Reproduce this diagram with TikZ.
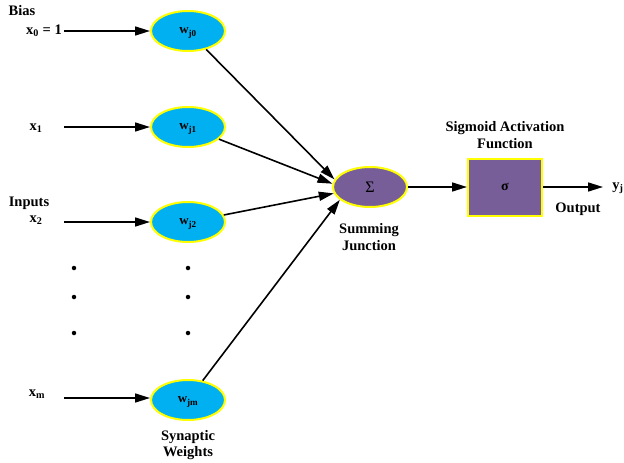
\documentclass[tikz,border=0pt]{standalone}
\usepackage{fontspec}
\setmainfont{Liberation Serif}
\usetikzlibrary{arrows.meta,shapes.geometric}
\definecolor{weightblue}{RGB}{0,176,240}
\definecolor{sumpurple}{RGB}{120,94,152}
\definecolor{rimyellow}{RGB}{255,255,0}
\tikzstyle{weight}=[ellipse,draw=rimyellow,line width=2pt,fill=weightblue,minimum width=74pt,minimum height=40pt,inner sep=0pt,text depth=0pt,font=\bfseries\fontsize{13}{14}\selectfont]
\tikzstyle{edge}=[draw,line width=1.6pt,-{Triangle[length=15pt,width=9pt]}]
\tikzstyle{txt}=[font=\bfseries\fontsize{14.5}{16.5}\selectfont,align=center,inner sep=0pt]
\tikzstyle{dot}=[circle,fill=black,inner sep=0pt,minimum size=4.5pt]

\begin{document}
\begin{tikzpicture}[x=1pt,y=-1pt]
	\useasboundingbox (0,0) rectangle (624,463);
	% First we draw the weights and the inputs
	\foreach \pos/\name/\sub in {{(188,31)/w0/j0}, {(188,127)/w1/j1}, {(188,222)/w2/j2}, {(188,400)/wm/jm}}
	\node[weight] (\name) at \pos {w\textsubscript{\sub}};

	\foreach \pos/\name/\text in {{(44,31)/x0/{x\textsubscript{0} = 1}}, {(36,128)/x1/x\textsubscript{1}},
								  {(36,220)/x2/x\textsubscript{2}}, {(37,394)/xm/x\textsubscript{m}}}
	\node[txt] (\name) at \pos {\text};

	\foreach \y/\name in {31/s0, 127/s1, 222/s2, 398/sm}
	\coordinate (\name) at (64,\y);

	% Summing junction and activation
	\node[ellipse,draw=rimyellow,line width=2pt,fill=sumpurple,minimum width=74pt,minimum height=40pt,inner sep=0pt,font=\fontsize{16}{18}\selectfont] (sum) at (370,187) {Σ};
	\node[draw=rimyellow,line width=2pt,fill=sumpurple,minimum width=74pt,minimum height=57pt,inner sep=0pt,font=\bfseries\fontsize{14}{15}\selectfont] (act) at (505,187) {σ};
	\coordinate (yout) at (603,187);

	% Texts
	\node[txt] (bias) at (22,11) {Bias};
	\node[txt] (inputs) at (29,203) {Inputs};
	\node[txt] (synaptic) at (188,445) {Synaptic\\Weights};
	\node[txt] (summing) at (369,237) {Summing\\Junction};
	\node[txt] (sigmoid) at (505,135) {Sigmoid Activation\\Function};
	\node[txt] (output) at (578,209) {Output};
	\node[txt] (yj) at (618,188) {y\textsubscript{j}};

	% Dots
	\foreach \x in {74,188}
	\foreach \y in {268,297,333}
	\node[dot] at (\x,\y) {};

	% Connect inputs with weights, weights with the sum
	\foreach \source/\dest in {s0/w0, s1/w1, s2/w2, sm/wm}
	\path[edge] (\source) -- (\source -| \dest.west);

	\foreach \source/\angle in {w0/168, w1/175, w2/190, wm/203}
	\path[edge] (\source) -- (sum.\angle);

	\path[edge] (sum) -- (act);
	\path[edge] (act) -- (yout);
\end{tikzpicture}
\end{document}
